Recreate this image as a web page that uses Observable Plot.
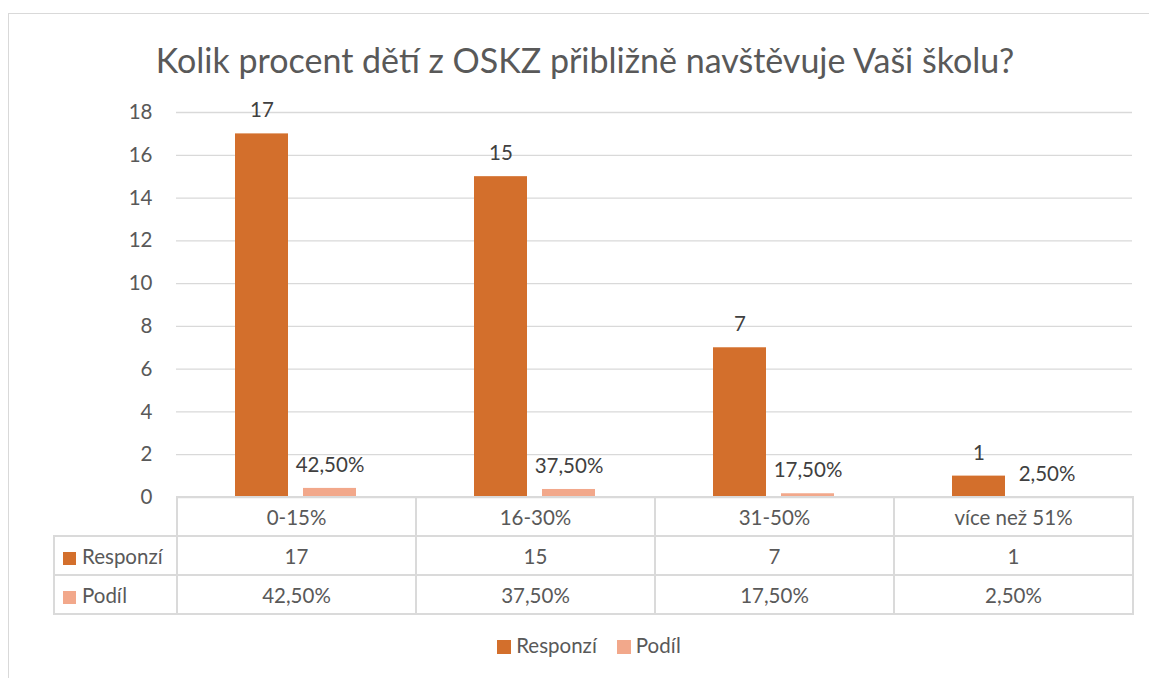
<!DOCTYPE html>
<html>
<head>
<meta charset="utf-8">
<script src="https://cdn.jsdelivr.net/npm/d3@7"></script>
<script src="https://cdn.jsdelivr.net/npm/@observablehq/plot@0.6"></script>
<style>
  html, body { margin: 0; padding: 0; background: #fff; }
  #wrap { position: relative; width: 1149px; height: 678px; overflow: hidden; background: #fff; font-family: Lato, "Open Sans", sans-serif; color: #595959; }
  #frame { position: absolute; left: 8px; top: 13px; width: 1160px; height: 700px; border: 1px solid #d9d9d9; box-sizing: border-box; }
  #title { position: absolute; left: 0; width: 1170px; top: 39px; text-align: center; font-size: 34px; color: #595959; white-space: nowrap; }
  #chart { position: absolute; left: 0; top: 0; }
  #table { position: absolute; left: 53px; top: 496px; border-collapse: collapse; table-layout: fixed; font-size: 20.5px; color: #595959; }
  #table td { border: 2px solid #dadada; height: 37px; padding: 0; text-align: center; white-space: nowrap; }
  #table td.blank { border: none; border-right: 2px solid #dadada; border-bottom: 2px solid #dadada; }
  #table td.lab { text-align: left; padding-left: 8px; }
  .key { display: inline-block; width: 13px; height: 13px; margin-right: 6px; vertical-align: -1px; }
  #legend { position: absolute; left: 0; width: 1178px; top: 633px; text-align: center; font-size: 20.5px; color: #595959; }
  #legend span.item { margin: 0 10px; }
</style>
</head>
<body>
<div id="wrap">
  <div id="frame"></div>
  <div id="chart"></div>
  <div id="title">Kolik procent dětí z OSKZ přibližně navštěvuje Vaši školu?</div>
  <table id="table"></table>
  <div id="legend"></div>
</div>
<script>
const categories = ["0-15%", "16-30%", "31-50%", "více než 51%"];
const seriesNames = ["Responzí", "Podíl"];
const responzi = [17, 15, 7, 1];
const podil = [0.425, 0.375, 0.175, 0.025];
const yTicks = [0, 2, 4, 6, 8, 10, 12, 14, 16, 18];
const colors = ["#d36f2c", "#f2a88b"];

const fmtPct = v => (v * 100).toFixed(2).replace(".", ",") + "%";
const fmt = (s, v) => s === "Podíl" ? fmtPct(v) : String(v);

const data = [];
categories.forEach((c, i) => {
  data.push({cat: c, series: seriesNames[0], value: responzi[i]});
  data.push({cat: c, series: seriesNames[1], value: podil[i]});
});

const plot = Plot.plot({
  width: 1149,
  height: 512,
  marginTop: 112,
  marginBottom: 15,
  marginLeft: 176,
  marginRight: 17,
  style: {fontFamily: "Lato, 'Open Sans', sans-serif", fontSize: "20.5px", color: "#595959", background: "transparent", overflow: "visible"},
  fx: {domain: categories, padding: 0, axis: null},
  x: {domain: seriesNames, paddingInner: 0.22, paddingOuter: 0.86, axis: null},
  y: {domain: [0, 18], axis: null},
  color: {domain: seriesNames, range: colors},
  marks: [
    Plot.ruleY(yTicks, {stroke: "#d9d9d9", strokeWidth: 1.3, strokeOpacity: 1}),
    Plot.axisY({ticks: yTicks, tickSize: 0, tickPadding: 24, fontSize: 20.5, fill: "#595959", label: null, tickFormat: d => String(d)}),
    Plot.barY(data, {fx: "cat", x: "series", y: "value", fill: "series"}),
    Plot.text(data, {fx: "cat", x: "series", y: "value", text: d => fmt(d.series, d.value), dy: -23, fill: "#404040", fontSize: 20.5})
  ]
});
document.getElementById("chart").appendChild(plot);

// Data table below the plot
const tbl = document.getElementById("table");
const colgroup = document.createElement("colgroup");
[123, 239, 239, 239, 239].forEach(w => { const c = document.createElement("col"); c.style.width = w + "px"; colgroup.appendChild(c); });
tbl.appendChild(colgroup);
const hdr = document.createElement("tr");
hdr.innerHTML = `<td class="blank"></td>` + categories.map(c => `<td>${c}</td>`).join("");
tbl.appendChild(hdr);
[responzi, podil].forEach((vals, si) => {
  const tr = document.createElement("tr");
  tr.innerHTML = `<td class="lab"><span class="key" style="background:${colors[si]}"></span>${seriesNames[si]}</td>` +
    vals.map(v => `<td>${fmt(seriesNames[si], v)}</td>`).join("");
  tbl.appendChild(tr);
});

// Bottom legend
document.getElementById("legend").innerHTML = seriesNames.map((s, i) =>
  `<span class="item"><span class="key" style="background:${colors[i]};width:14px;height:14px;margin-right:5px"></span>${s}</span>`).join("");
</script>
</body>
</html>
